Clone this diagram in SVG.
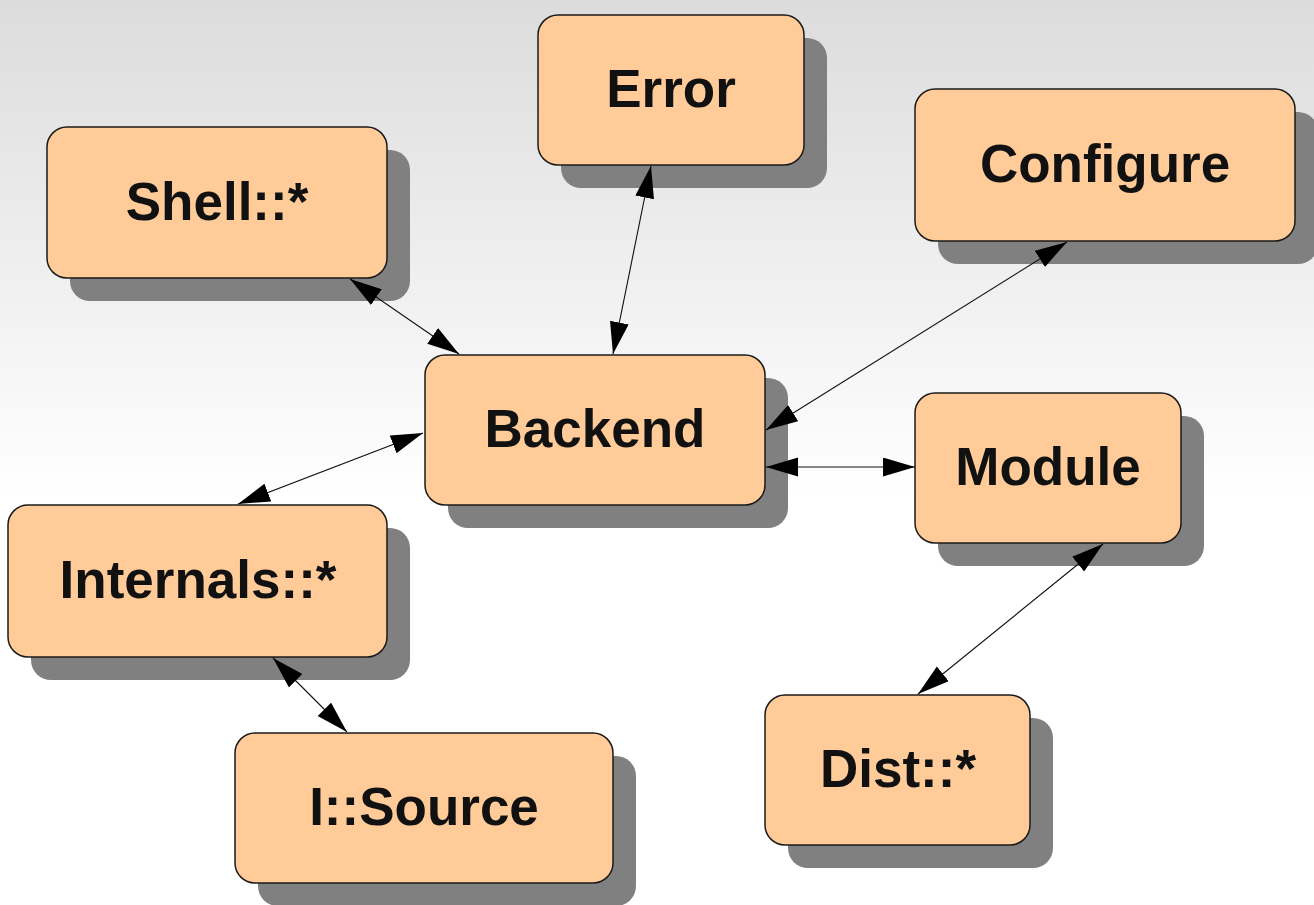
<svg xmlns="http://www.w3.org/2000/svg" width="1314" height="905" viewBox="0 0 1314 905">
  <defs>
    <linearGradient id="bg" x1="0" y1="0" x2="0" y2="1">
      <stop offset="0" stop-color="#dcdcdc"/>
      <stop offset="0.55" stop-color="#ffffff"/>
      <stop offset="1" stop-color="#ffffff"/>
    </linearGradient>
    <marker id="ah" markerUnits="userSpaceOnUse" markerWidth="34" markerHeight="20" refX="32" refY="9.5" orient="auto-start-reverse">
      <path d="M0,0 L32,9.5 L0,19 z" fill="#000"/>
    </marker>
  </defs>
  <style>
    .shadow { fill: #808080; }
    .box { fill: #ffcc99; stroke: #1a1a1a; stroke-width: 1.5; }
    .label { font-family: "Liberation Sans", Arial, sans-serif; font-weight: bold; font-size: 53px; fill: #111; text-anchor: middle; }
    .edge { stroke: #111; stroke-width: 1.1; fill: none; marker-start: url(#ah); marker-end: url(#ah); }
  </style>
  <rect x="0" y="0" width="1314" height="905" fill="url(#bg)"/>

  <g id="node-error">
    <rect class="shadow" x="561" y="38" width="266" height="150" rx="20"/>
    <rect class="box" x="538" y="15" width="266" height="150" rx="20"/>
    <text class="label" x="671" y="107">Error</text>
  </g>
  <g id="node-shell">
    <rect class="shadow" x="70" y="150" width="340" height="151" rx="20"/>
    <rect class="box" x="47" y="127" width="340" height="151" rx="20"/>
    <text class="label" x="217" y="220">Shell::*</text>
  </g>
  <g id="node-configure">
    <rect class="shadow" x="938" y="112" width="380" height="152" rx="20"/>
    <rect class="box" x="915" y="89" width="380" height="152" rx="20"/>
    <text class="label" x="1105" y="182">Configure</text>
  </g>
  <g id="node-backend">
    <rect class="shadow" x="448" y="378" width="340" height="150" rx="20"/>
    <rect class="box" x="425" y="355" width="340" height="150" rx="20"/>
    <text class="label" x="595" y="447">Backend</text>
  </g>
  <g id="node-module">
    <rect class="shadow" x="938" y="416" width="266" height="150" rx="20"/>
    <rect class="box" x="915" y="393" width="266" height="150" rx="20"/>
    <text class="label" x="1048" y="485">Module</text>
  </g>
  <g id="node-internals">
    <rect class="shadow" x="31" y="528" width="379" height="152" rx="20"/>
    <rect class="box" x="8" y="505" width="379" height="152" rx="20"/>
    <text class="label" x="198" y="598">Internals::*</text>
  </g>
  <g id="node-isource">
    <rect class="shadow" x="258" y="756" width="378" height="150" rx="20"/>
    <rect class="box" x="235" y="733" width="378" height="150" rx="20"/>
    <text class="label" x="424" y="825">I::Source</text>
  </g>
  <g id="node-dist">
    <rect class="shadow" x="788" y="718" width="265" height="150" rx="20"/>
    <rect class="box" x="765" y="695" width="265" height="150" rx="20"/>
    <text class="label" x="898" y="787">Dist::*</text>
  </g>

  <g id="connectors">
    <line class="edge" x1="350" y1="279" x2="459" y2="354"/>
    <line class="edge" x1="651" y1="166" x2="613" y2="354"/>
    <line class="edge" x1="1067" y1="242" x2="766" y2="430"/>
    <line class="edge" x1="766" y1="467" x2="915" y2="467"/>
    <line class="edge" x1="423" y1="433" x2="238" y2="504"/>
    <line class="edge" x1="273" y1="658" x2="347" y2="732"/>
    <line class="edge" x1="1103" y1="544" x2="918" y2="694"/>
  </g>
</svg>
